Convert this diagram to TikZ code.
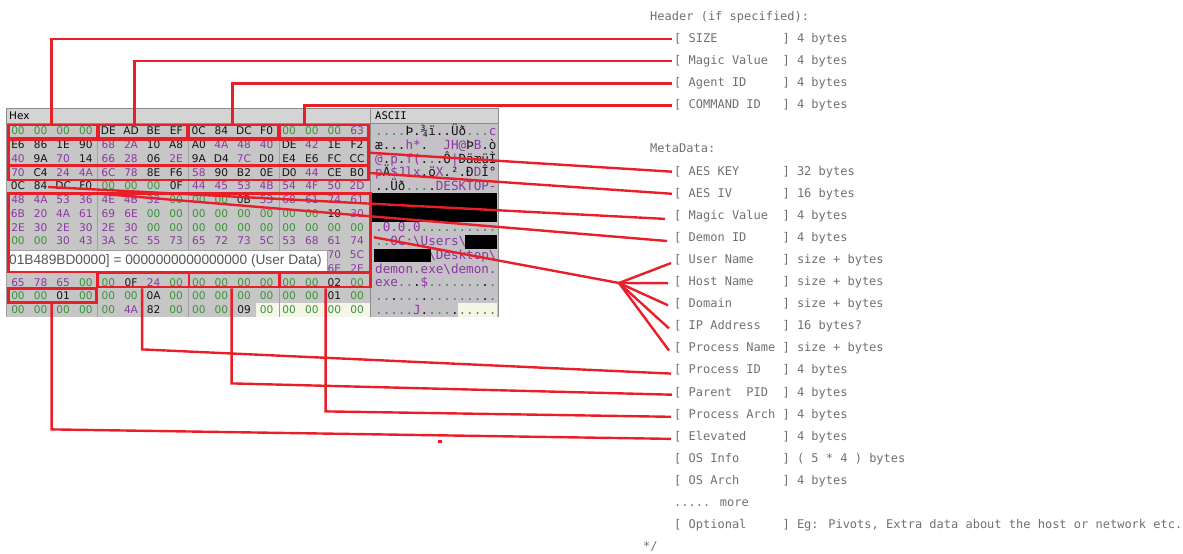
\documentclass[tikz,border=0pt]{standalone}
\usepackage{fontspec}
\usetikzlibrary{calc,fit}
\setmainfont{DejaVu Sans}
\newfontfamily\hexfont{DejaVu Sans}
\newfontfamily\monofont{DejaVu Sans Mono}
\newfontfamily\tipfont{Liberation Sans}
\definecolor{hred}{RGB}{232,30,40}
\definecolor{hexgreen}{RGB}{56,148,56}
\definecolor{hexpurple}{RGB}{140,56,160}
\definecolor{hexblack}{RGB}{20,20,20}
\definecolor{panelgray}{RGB}{198,198,198}
\definecolor{asciigray}{RGB}{196,194,198}
\definecolor{codegray}{RGB}{112,112,112}
\definecolor{endcream}{RGB}{246,246,232}
\definecolor{hdrgray}{RGB}{212,212,212}
\definecolor{hdrborder}{RGB}{140,140,140}
\definecolor{sepgray}{RGB}{160,160,160}
\definecolor{tiptext}{RGB}{85,85,85}
\newlength\cw
\setlength\cw{7.224pt}
\def\hexcls#1#2{\def\hxc{hexblack}%
  \ifx#12\def\hxc{hexpurple}\fi
  \ifx#13\def\hxc{hexpurple}\fi
  \ifx#14\def\hxc{hexpurple}\fi
  \ifx#15\def\hxc{hexpurple}\fi
  \ifx#16\def\hxc{hexpurple}\fi
  \ifx#17\def\hxc{hexpurple}\fi
  \ifx#10\ifx#20\def\hxc{hexgreen}\fi\fi}
\newcommand\hexrow[2]{\foreach \bt [count=\ci from 0] in {#2}{\expandafter\hexcls\bt
  \node[hexb,text=\hxc] (hx#1c\ci) at ({18+22.6*\ci},{131+13.75*#1}) {\bt};}}
\newcommand\ag[1]{\textcolor{hexgreen}{#1}}
\newcommand\ak[1]{\textcolor{hexblack}{#1}}
\newcommand\ap[1]{\textcolor{hexpurple}{#1}}
\newcommand\fld[2]{\makebox[15\cw][l]{[ #1}]\ #2}
\begin{document}
\begin{tikzpicture}[x=1pt,y=-1pt,
  hexb/.style={font=\hexfont\fontsize{10.6}{12}\selectfont, inner sep=0pt, text height=7.7pt, text depth=0pt},
  asc/.style={anchor=west, font=\monofont\fontsize{12.6}{14}\selectfont, inner sep=0pt, text height=9.2pt, text depth=0pt},
  code/.style={anchor=base west, font=\monofont\fontsize{12}{14}\selectfont, text=codegray, inner sep=0pt},
  redbox/.style={draw=hred, line width=2.8pt, inner sep=0pt},
  conn/.style={draw=hred, line width=2.4pt},
  hdr/.style={inner sep=0pt, fill=hdrgray, draw=hdrborder, line width=0.8pt}]
\useasboundingbox (0,0) rectangle (1183,554);
% ---------- hex panel ----------
\fill[panelgray] (6,123) rectangle (370,317);
\fill[asciigray] (370,123) rectangle (498,317);
\fill[endcream] (256,303) rectangle (370,317);
\fill[endcream] (458,303) rectangle (497,317);
\foreach \sx in {97.5,188.5,279.5} \draw[sepgray, line width=0.8pt] (\sx,123) -- (\sx,317);
\draw[hdrborder, line width=1.4pt] (370.5,108) -- (370.5,317);
\draw[hdrborder, line width=1pt] (498,108) -- (498,317);
\draw[sepgray, line width=0.8pt] (6,108) -- (6,317);
\node[hdr, fit={(6,108) (370,123)}] (hdrHex) {};
\node[hdr, fit={(370,108) (498,123)}] (hdrAsc) {};
\node[anchor=west, font=\hexfont\fontsize{10.5}{12}\selectfont, inner sep=0pt] (hexTitle) at (9,115.5) {Hex};
\node[anchor=west, font=\monofont\fontsize{10.5}{12}\selectfont, inner sep=0pt] (ascTitle) at (375,115.5) {ASCII};
% hex bytes
\hexrow{0}{00,00,00,00,DE,AD,BE,EF,0C,84,DC,F0,00,00,00,63}
\hexrow{1}{E6,86,1E,90,68,2A,10,A8,A0,4A,48,40,DE,42,1E,F2}
\hexrow{2}{40,9A,70,14,66,28,06,2E,9A,D4,7C,D0,E4,E6,FC,CC}
\hexrow{3}{70,C4,24,4A,6C,78,8E,F6,58,90,B2,0E,D0,44,CE,B0}
\hexrow{4}{0C,84,DC,F0,00,00,00,0F,44,45,53,4B,54,4F,50,2D}
\hexrow{5}{48,4A,53,36,4E,4B,32,00,00,00,0B,53,68,61,74,61}
\hexrow{6}{6B,20,4A,61,69,6E,00,00,00,00,00,00,00,00,10,30}
\hexrow{7}{2E,30,2E,30,2E,30,00,00,00,00,00,00,00,00,00,00}
\hexrow{8}{00,00,30,43,3A,5C,55,73,65,72,73,5C,53,68,61,74}
\node[hexb,text=hexpurple] (hx9c14) at ({18+22.6*14},{131+13.75*9}) {70};
\node[hexb,text=hexpurple] (hx9c15) at ({18+22.6*15},{131+13.75*9}) {5C};
\node[hexb,text=hexpurple] (hx10c14) at ({18+22.6*14},{131+13.75*10}) {6E};
\node[hexb,text=hexpurple] (hx10c15) at ({18+22.6*15},{131+13.75*10}) {2E};
\hexrow{11}{65,78,65,00,00,0F,24,00,00,00,00,00,00,00,02,00}
\hexrow{12}{00,00,01,00,00,00,0A,00,00,00,00,00,00,00,01,00}
\hexrow{13}{00,00,00,00,00,4A,82,00,00,00,09,00,00,00,00,00}
% ascii
\node[asc] (as0) at (375,131) {\ag{....}\ak{Þ.¾ï..Üð}\ag{...}\ap{c}};
\node[asc] (as1) at (375,144.75) {\ak{æ...}\ap{h*}\ak{.}\phantom{..}\ap{JH@}\ak{Þ}\ap{B}\ak{.ò}};
\node[asc] (as2) at (375,158.5) {\ap{@}\ak{.}\ap{p}\ak{.}\ap{f(}\ak{.}\ap{.}\ak{.Ô}\ap{|}\ak{ÐäæüÌ}};
\node[asc] (as3) at (375,172.25) {\ap{p}\ak{Ä}\ap{\$Jlx}\ak{.ö}\ap{X}\ak{.².Ð}\ap{D}\ak{Î°}};
\node[asc] (as4) at (375,186) {\ak{..Üð}\ag{...}\ak{.}\ap{DESKTOP-}};
\node[asc] (as7) at (375,227.25) {\ap{.0.0.0}\ag{..........}};
\node[asc] (as8) at (375,241) {\ag{..}\ap{0C:\textbackslash Users\textbackslash}};
\node[asc] (as9) at (375,254.75) {\phantom{xxxxxxx}\ap{\textbackslash Desktop\textbackslash}};
\node[asc] (as10) at (375,268.5) {\ap{demon.exe\textbackslash demon.}};
\node[asc] (as11) at (375,282.25) {\ap{exe}\ag{..}\ak{.}\ap{\$}\ag{.......}\ak{.}\ag{.}};
\node[asc] (as12) at (375,296) {\ag{..}\ak{.}\ag{...}\ak{.}\ag{.......}\ak{.}\ag{.}};
\node[asc] (as13) at (375,309.75) {\ag{.....}\ap{J}\ak{.}\ag{...}\ak{.}\ag{.....}};
% redactions
\fill[black] (372,193) rectangle (497,222);
\fill[black] (465,234.5) rectangle (497,248.5);
\fill[black] (374,248.5) rectangle (431,262);
% tooltip
\node[inner sep=0pt, fill=white, draw=sepgray, line width=0.6pt, fit={(6,250) (327,272)}] (tip) {};
\node[anchor=west, inner sep=0pt, text=tiptext, font=\tipfont\fontsize{13.7}{16}\selectfont] (tipText) at (9,261) {01B489BD0000] = 0000000000000000 (User Data)};
% ---------- right-hand text ----------
\node[code] (hdrTxt) at (650,{38-22.1+4.4}) {Header (if specified):};
\node[code] (lbSize) at (674,{38+22.1*0+4.4}) {\fld{SIZE}{4 bytes}};
\node[code] (lbMagic) at (674,{38+22.1*1+4.4}) {\fld{Magic Value}{4 bytes}};
\node[code] (lbAgent) at (674,{38+22.1*2+4.4}) {\fld{Agent ID}{4 bytes}};
\node[code] (lbCmd) at (674,{38+22.1*3+4.4}) {\fld{COMMAND ID}{4 bytes}};
\node[code] (metaTxt) at (650,{38+22.1*5+4.4}) {MetaData:};
\node[code] (lbKey) at (674,{38+22.1*6+4.4}) {\fld{AES KEY}{32 bytes}};
\node[code] (lbIV) at (674,{38+22.1*7+4.4}) {\fld{AES IV}{16 bytes}};
\node[code] (lbMagic2) at (674,{38+22.1*8+4.4}) {\fld{Magic Value}{4 bytes}};
\node[code] (lbDemon) at (674,{38+22.1*9+4.4}) {\fld{Demon ID}{4 bytes}};
\node[code] (lbUser) at (674,{38+22.1*10+4.4}) {\fld{User Name}{size + bytes}};
\node[code] (lbHost) at (674,{38+22.1*11+4.4}) {\fld{Host Name}{size + bytes}};
\node[code] (lbDomain) at (674,{38+22.1*12+4.4}) {\fld{Domain}{size + bytes}};
\node[code] (lbIP) at (674,{38+22.1*13+4.4}) {\fld{IP Address}{16 bytes?}};
\node[code] (lbPName) at (674,{38+22.1*14+4.4}) {\fld{Process Name}{size + bytes}};
\node[code] (lbPID) at (674,{38+22.1*15+4.4}) {\fld{Process ID}{4 bytes}};
\node[code] (lbPPID) at (674,{38+22.1*16+4.4}) {\fld{Parent\ \ PID}{4 bytes}};
\node[code] (lbArch) at (674,{38+22.1*17+4.4}) {\fld{Process Arch}{4 bytes}};
\node[code] (lbElev) at (674,{38+22.1*18+4.4}) {\fld{Elevated}{4 bytes}};
\node[code] (lbOS) at (674,{38+22.1*19+4.4}) {\fld{OS Info}{( 5 * 4 ) bytes}};
\node[code] (lbOSArch) at (674,{38+22.1*20+4.4}) {\fld{OS Arch}{4 bytes}};
\node[code] (lbMore) at (674,{38+22.1*21+4.4}) {..... more};
\node[code] (lbOpt) at (674,{38+22.1*22+4.4}) {\fld{Optional}{Eg: Pivots, Extra data about the host or network etc.}};
\node[code] (endTxt) at (643,{38+22.1*23+4.4}) {*/};
% ---------- red boxes ----------
\node[redbox, fit={(8.5,125) (97,138.5)}] (bSize) {};
\node[redbox, fit={(98.5,125) (187.5,138.5)}] (bMagic) {};
\node[redbox, fit={(189,125) (278.5,138.5)}] (bAgent) {};
\node[redbox, fit={(280,125) (368.5,138.5)}] (bCmd) {};
\node[redbox, fit={(8.5,140) (368.5,165.5)}] (bKey) {};
\node[redbox, fit={(8.5,166) (368.5,180)}] (bIV) {};
\node[redbox, fit={(8.5,193.5) (370.5,272)}] (bBig) {};
\node[redbox, fit={(97.5,273) (189,287)}] (bPID) {};
\node[redbox, fit={(189,273) (279.5,287)}] (bPPID) {};
\node[redbox, fit={(279.5,273) (370.5,287)}] (bArch) {};
\node[redbox, fit={(8.5,288.5) (96.5,302.5)}] (bElev) {};
% ---------- connectors ----------
\draw[conn] ($(bSize.north west)+(44.5,0)$) |- ($(lbSize.west)+(-2,0)$);
\draw[conn] ($(bMagic.north west)+(37.5,0)$) |- ($(lbMagic.west)+(-2,0)$);
\draw[conn] ($(bAgent.north west)+(45,0)$) |- ($(lbAgent.west)+(-2,0)$);
\draw[conn] ($(bCmd.north west)+(26,0)$) |- ($(lbCmd.west)+(-2,0)$);
\draw[conn] (bKey.east) -- ($(lbKey.west)+(-2,0)$);
\draw[conn] (bIV.east) -- ($(lbIV.west)+(-2,0)$);
\coordinate (mStart) at (48,187);
\coordinate (dStart) at (97,193.5);
\draw[conn] (mStart) -- ($(lbMagic2.west)+(-9,3)$);
\draw[conn] (dStart) -- ($(lbDemon.west)+(-7,3)$);
\coordinate (fan) at (619,283);
\draw[conn] ($(bBig.east)+(2,4.5)$) -- (fan);
\draw[conn] (fan) -- ($(lbUser.west)+(-3,3)$);
\draw[conn] (fan) -- ($(lbHost.west)+(-6,1)$);
\draw[conn] (fan) -- ($(lbDomain.west)+(-6,1)$);
\draw[conn] (fan) -- ($(lbIP.west)+(-5,2)$);
\draw[conn] (fan) -- ($(lbPName.west)+(-5,2)$);
\draw[conn] ($(bPID.south west)+(46,0)$) -- ++(0,61) -- ($(lbPID.west)+(-3,3)$);
\draw[conn] ($(bPPID.south west)+(44,0)$) -- ++(0,95) -- ($(lbPPID.west)+(-2,2)$);
\draw[conn] ($(bArch.south west)+(47.5,0)$) -- ++(0,123) -- ($(lbArch.west)+(-3,2)$);
\draw[conn] ($(bElev.south west)+(44.5,0)$) -- ++(0,125.5) -- ($(lbElev.west)+(-3,2)$);
\fill[hred] (438,439.5) rectangle (441.5,443);
\end{tikzpicture}
\end{document}
